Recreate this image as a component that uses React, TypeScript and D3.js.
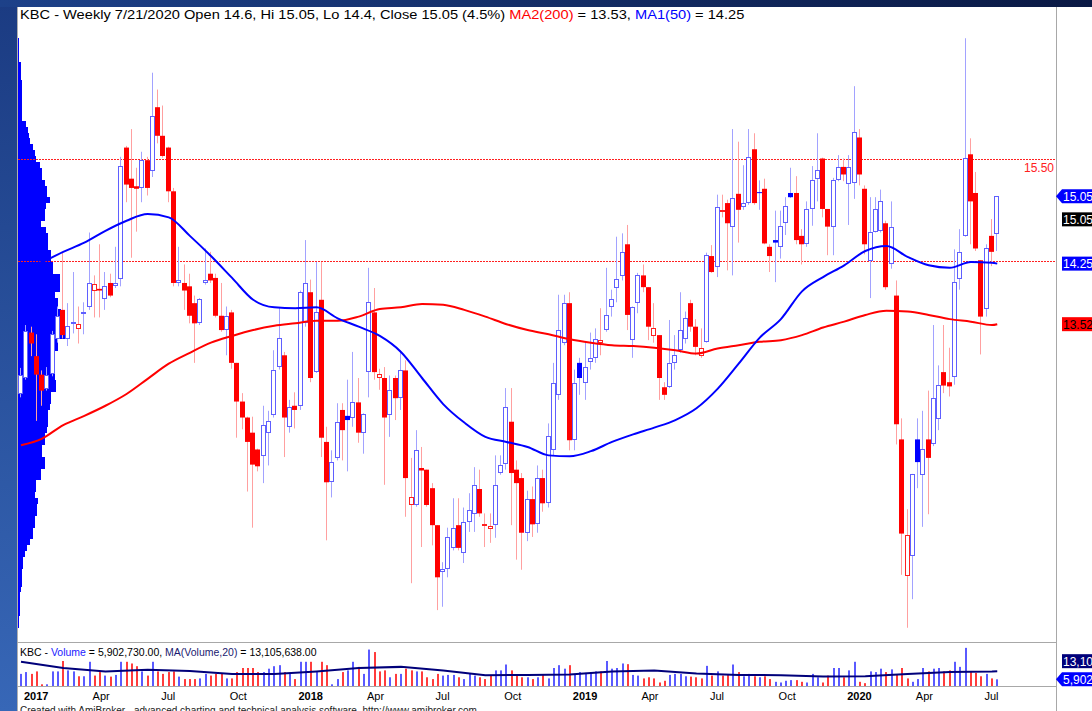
import React from 'react';
import * as d3 from 'd3';

// weekly bars, first bar = week ending 6 Jan 2017
const firstBar = new Date(2017, 0, 6);

const opens = [
  12.70, 12.89, 13.43, 13.15, 12.93, 12.76, 12.93, 13.36, 13.70, 13.36,
  13.53, 13.47, 13.66, 13.74, 13.93, 13.95, 13.83, 14.02, 13.98, 14.07,
  15.63, 15.26, 15.17, 15.15, 15.48, 15.35, 16.11, 15.77, 15.63, 15.11,
  14.02, 14.02, 13.98, 13.78, 13.54, 14.02, 14.13, 14.08, 13.63, 13.46,
  13.67, 13.07, 12.61, 12.42, 12.24, 12.04, 11.96, 12.24, 12.45, 13.02,
  13.16, 12.31, 12.56, 12.55, 13.54, 13.91, 12.96, 13.82, 12.13, 11.65,
  11.94, 12.51, 12.44, 12.41, 12.60, 12.24, 12.96, 13.67, 12.89, 12.89,
  12.45, 12.89, 12.65, 12.98, 11.38, 11.38, 11.82, 11.80, 11.58, 11.14,
  10.58, 10.62, 10.87, 11.14, 10.81, 11.18, 11.28, 11.57, 11.13, 11.10,
  11.14, 11.76, 11.86, 12.37, 11.80, 11.70, 11.05, 11.45, 11.15, 11.70,
  11.40, 12.03, 12.69, 13.31, 13.78, 12.15, 13.07, 12.83, 13.08, 13.13,
  13.30, 13.46, 13.74, 13.96, 14.11, 14.48, 13.35, 13.78, 14.11, 13.97,
  13.40, 13.40, 12.78, 12.78, 13.07, 13.22, 13.35, 13.78, 13.50, 13.16,
  13.31, 14.34, 14.21, 14.87, 14.97, 14.68, 15.08, 14.92, 14.97, 15.61,
  15.10, 15.14, 14.45, 14.53, 14.45, 14.73, 15.09, 15.09, 14.58, 14.48,
  14.90, 15.25, 15.50, 14.90, 14.69, 15.25, 15.40, 15.20, 15.20, 15.75,
  15.14, 14.29, 14.63, 14.63, 14.73, 14.24, 13.87, 12.16, 10.53, 10.78,
  12.16, 11.74, 12.16, 12.10, 12.41, 12.96, 12.84, 12.90, 14.07, 14.58,
  15.55, 15.09, 14.29, 13.71, 14.58, 14.60,
];

const highs = [
  13.01, 13.52, 13.50, 13.41, 12.98, 13.02, 13.45, 13.74, 14.39, 13.78,
  14.15, 13.74, 13.79, 14.62, 14.11, 14.48, 14.15, 14.13, 14.45, 15.52,
  15.65, 15.85, 15.39, 15.58, 15.52, 16.52, 16.32, 16.13, 15.64, 15.15,
  14.45, 14.24, 14.13, 13.87, 13.84, 14.43, 14.39, 14.13, 14.02, 13.74,
  13.70, 13.07, 12.71, 12.43, 12.43, 12.05, 12.56, 12.50, 13.22, 13.72,
  13.20, 12.63, 12.72, 13.93, 14.53, 14.06, 14.27, 14.27, 12.31, 12.03,
  12.59, 12.59, 12.87, 13.20, 12.89, 12.47, 14.20, 13.96, 13.00, 13.02,
  12.92, 12.92, 13.22, 13.10, 11.94, 12.27, 12.07, 11.80, 11.64, 11.14,
  10.70, 11.11, 11.46, 11.46, 11.35, 11.52, 11.83, 11.80, 11.28, 11.28,
  11.97, 11.97, 12.77, 12.77, 11.91, 11.76, 11.55, 11.60, 11.85, 11.80,
  12.35, 13.07, 13.88, 13.88, 13.91, 12.99, 13.13, 13.31, 13.43, 13.48,
  13.72, 14.20, 13.94, 14.57, 14.61, 14.71, 13.74, 14.14, 14.24, 13.97,
  13.78, 13.40, 12.84, 13.58, 13.40, 13.91, 13.68, 13.82, 13.59, 13.48,
  14.38, 14.47, 15.07, 15.07, 15.01, 15.85, 15.70, 15.42, 15.85, 15.80,
  15.24, 15.26, 14.48, 14.88, 14.88, 15.04, 15.39, 15.29, 14.66, 14.99,
  15.41, 15.80, 15.51, 14.90, 15.27, 15.54, 15.50, 15.54, 16.36, 15.85,
  15.18, 15.04, 15.04, 15.13, 14.76, 14.99, 14.05, 12.41, 11.33, 11.75,
  12.41, 12.50, 12.74, 13.52, 13.04, 13.52, 13.25, 14.42, 14.66, 16.93,
  15.74, 15.34, 14.29, 14.48, 14.78, 15.05,
];

const lows = [
  12.66, 12.87, 13.15, 12.38, 12.56, 12.74, 12.91, 13.31, 13.36, 13.27,
  13.42, 13.30, 13.41, 13.70, 13.61, 13.61, 13.70, 13.85, 13.96, 13.98,
  14.98, 14.32, 14.63, 14.98, 15.06, 15.28, 15.68, 15.51, 14.98, 13.98,
  13.98, 13.70, 13.54, 13.07, 13.52, 14.00, 14.02, 13.61, 13.44, 13.16,
  13.00, 12.18, 12.28, 11.54, 11.11, 11.78, 11.64, 11.85, 12.42, 12.99,
  11.95, 12.24, 12.29, 12.51, 13.50, 12.84, 12.95, 11.95, 10.96, 11.47,
  11.91, 11.91, 11.78, 12.31, 12.12, 11.99, 12.66, 12.87, 12.75, 11.62,
  12.19, 12.39, 12.51, 11.24, 10.45, 11.36, 10.88, 11.36, 10.90, 10.13,
  10.17, 10.52, 10.84, 10.84, 10.69, 11.06, 11.06, 11.24, 10.88, 10.93,
  10.99, 11.74, 11.80, 11.14, 10.73, 10.61, 10.95, 11.00, 11.05, 11.30,
  11.35, 11.97, 12.63, 13.28, 12.03, 12.03, 12.69, 12.63, 12.99, 13.07,
  13.16, 13.44, 13.62, 13.79, 14.05, 13.46, 13.13, 13.66, 13.91, 13.34,
  13.31, 12.63, 12.63, 12.77, 12.99, 13.19, 13.30, 13.44, 13.16, 13.13,
  13.31, 14.14, 14.09, 14.80, 14.17, 14.11, 14.50, 14.89, 14.95, 14.95,
  14.89, 14.48, 14.15, 14.03, 14.31, 14.59, 15.03, 14.48, 14.24, 14.45,
  14.70, 14.99, 14.80, 14.35, 14.35, 15.23, 15.23, 14.71, 15.02, 15.18,
  14.36, 13.84, 14.62, 14.62, 13.94, 14.19, 12.10, 10.55, 9.92, 10.26,
  11.58, 11.12, 11.27, 12.08, 12.27, 12.71, 12.67, 12.81, 13.94, 14.57,
  14.48, 14.40, 13.17, 13.62, 14.22, 14.40,
];

const closes = [
  12.93, 13.45, 13.30, 12.93, 12.74, 12.93, 13.41, 13.63, 13.40, 13.51,
  13.55, 13.53, 13.68, 14.02, 14.01, 13.93, 13.98, 13.87, 14.02, 15.41,
  15.19, 15.15, 15.14, 15.48, 15.15, 16.00, 15.77, 15.53, 15.11, 14.02,
  14.06, 13.93, 13.63, 13.54, 13.83, 14.06, 14.05, 13.63, 13.46, 13.63,
  13.07, 12.61, 12.42, 12.13, 11.86, 11.84, 12.33, 12.38, 12.99, 13.37,
  12.42, 12.55, 12.51, 13.91, 14.02, 12.89, 13.67, 12.18, 11.65, 11.89,
  12.37, 12.27, 12.39, 12.60, 12.24, 12.46, 13.79, 12.96, 12.94, 12.42,
  12.75, 12.65, 12.98, 11.70, 11.48, 12.03, 11.79, 11.38, 11.14, 10.52,
  10.62, 11.00, 11.11, 10.87, 11.18, 11.32, 11.62, 11.28, 11.15, 11.13,
  11.62, 11.86, 12.54, 11.76, 11.64, 11.05, 11.45, 11.15, 11.70, 11.40,
  12.20, 12.83, 13.46, 13.78, 12.15, 12.83, 12.89, 13.02, 13.13, 13.35,
  13.34, 13.64, 13.83, 14.07, 14.39, 13.64, 13.74, 14.11, 13.97, 13.50,
  13.49, 12.89, 12.69, 13.07, 13.16, 13.46, 13.60, 13.50, 13.26, 13.25,
  14.35, 14.15, 14.92, 14.89, 14.73, 15.03, 14.89, 14.97, 15.52, 14.97,
  15.09, 14.49, 14.34, 14.50, 14.70, 14.93, 15.04, 14.53, 14.48, 14.90,
  15.25, 15.36, 14.90, 14.69, 15.25, 15.40, 15.31, 15.40, 15.81, 15.31,
  14.48, 14.63, 14.90, 14.99, 13.97, 14.68, 12.34, 11.04, 11.02, 11.75,
  11.89, 12.05, 11.94, 12.65, 12.81, 12.80, 12.79, 14.03, 14.39, 15.51,
  14.99, 14.43, 13.62, 14.44, 14.39, 15.05,
];

// weekly volume, millions
const volumes = [
  10.7, 12.3, 10.7, 12.9, 1.5, 1.5, 12.9, 12.9, 22.1, 13.8,
  12.9, 8.6, 8.6, 21.4, 9.2, 12.3, 9.2, 8.3, 9.8, 21.4,
  21.4, 19.9, 17.5, 12.9, 9.2, 21.4, 12.9, 10.7, 12.3, 12.9,
  8.3, 6.1, 6.1, 6.1, 6.7, 10.7, 9.2, 10.7, 10.7, 6.7,
  6.7, 12.3, 15.9, 15.9, 15.9, 12.3, 12.3, 15.3, 17.5, 18.4,
  12.3, 10.7, 6.1, 21.4, 21.4, 21.4, 12.3, 21.4, 18.4, 1.5,
  6.1, 12.3, 13.8, 21.4, 16.9, 10.7, 32.2, 30.0, 12.9, 13.8,
  7.7, 10.7, 10.7, 15.3, 13.8, 12.9, 12.9, 7.7, 6.1, 10.7,
  9.2, 9.8, 9.8, 7.7, 6.1, 10.7, 9.2, 7.7, 6.1, 9.2,
  13.8, 13.8, 19.0, 13.8, 9.2, 7.7, 7.7, 6.1, 7.7, 9.8,
  6.7, 15.9, 18.4, 15.3, 18.4, 10.7, 12.3, 11.6, 12.3, 12.9,
  12.9, 22.1, 15.3, 15.9, 19.9, 19.3, 9.8, 9.2, 6.7, 7.7,
  6.7, 3.1, 4.6, 9.8, 10.7, 10.7, 8.6, 8.3, 7.7, 6.7,
  17.8, 9.2, 12.9, 9.2, 9.8, 19.0, 12.3, 8.6, 10.7, 8.6,
  7.7, 8.6, 6.1, 3.7, 3.1, 4.6, 5.2, 5.2, 3.7, 3.1,
  10.7, 7.7, 3.1, 9.2, 15.9, 15.9, 7.7, 13.8, 21.4, 3.7,
  2.5, 12.9, 12.3, 15.3, 12.3, 14.7, 9.8, 15.9, 6.7, 3.7,
  6.1, 15.9, 12.9, 15.3, 15.9, 12.9, 13.8, 21.4, 16.9, 33.7,
  12.9, 11.6, 8.6, 10.7, 6.7, 5.9,
];

// moving averages read every 4th bar (last one = current bar)
const maBars = [...d3.range(0, 185, 4), 185];
const ma50 = [
  14.20, 14.27, 14.39, 14.50, 14.64, 14.76, 14.84, 14.80, 14.58, 14.34,
  14.08, 13.82, 13.73, 13.72, 13.73, 13.60, 13.50, 13.39, 13.20, 12.89,
  12.58, 12.36, 12.19, 12.13, 12.07, 11.97, 11.96, 12.02, 12.13, 12.22,
  12.30, 12.39, 12.53, 12.76, 13.06, 13.37, 13.59, 13.92, 14.09, 14.23,
  14.40, 14.46, 14.33, 14.23, 14.20, 14.27, 14.26, 14.25,
];
const ma200 = [
  12.09, 12.17, 12.33, 12.44, 12.56, 12.70, 12.88, 13.06, 13.19, 13.31,
  13.39, 13.46, 13.51, 13.54, 13.57, 13.57, 13.62, 13.71, 13.73, 13.77,
  13.76, 13.70, 13.62, 13.53, 13.46, 13.41, 13.35, 13.31, 13.28, 13.27,
  13.25, 13.22, 13.18, 13.24, 13.28, 13.32, 13.34, 13.40, 13.49, 13.56,
  13.64, 13.69, 13.68, 13.64, 13.59, 13.56, 13.52, 13.53,
];

// MA(Volume,20), every 8th bar
const volMaBars = [...d3.range(0, 185, 8), 185];
const volMa = [
  21.4, 16.0, 12.9, 14.4, 13.2, 10.7, 10.7, 12.9, 15.9, 16.9,
  13.6, 9.5, 9.8, 10.2, 12.9, 13.6, 11.0, 9.8, 9.5, 8.3,
  8.6, 10.7, 12.3, 12.9, 13.1,
];

// volume at price, 100 rows from the high down to the low
const profile = [
  1, 1, 1, 1, 2.5, 2.7, 2.7, 4, 4, 4,
  4, 4, 4, 4, 8, 10, 11, 12, 15, 17,
  18, 22, 24, 24, 27, 29, 29, 32, 28, 27,
  27, 23, 28, 30, 30, 30, 33, 33, 35, 35,
  42, 42, 42, 37, 40, 40, 43, 43, 47, 47,
  47, 40, 40, 36, 36, 36, 37, 37, 38, 38,
  33, 33, 32, 30, 30, 30, 29, 27, 27, 24,
  24, 27, 27, 23, 23, 18, 18, 17, 20, 19,
  19, 17, 17, 15, 15, 12, 9, 7, 5, 5,
  4, 4, 4, 3, 2, 2, 2, 2, 1, 1,
];

const hLines = [15.5, 14.28];

const FONT = "'Liberation Sans', Arial, sans-serif";

const x = d3.scaleLinear().domain([0, 185]).range([21, 997.25]);
const y = d3.scaleLinear().domain([10, 17]).range([621.05, 32.35]);
const yv = d3.scaleLinear().domain([0, 38]).range([686, 643]);

export default function App() {
  const n = closes.length;
  const dates = closes.map((_, i) => d3.timeDay.offset(firstBar, 7 * i));
  const up = closes.map((c, i) => (i === 0 ? c >= opens[i] : c >= closes[i - 1]));

  // quarter labels
  const ticks: { i: number; text: string; year: boolean }[] = [];
  dates.forEach((d, i) => {
    const m = d.getMonth();
    if (m % 3 !== 0) return;
    if (i > 0 && dates[i - 1].getMonth() === m) return;
    ticks.push({ i, text: m === 0 ? String(d.getFullYear()) : d3.timeFormat('%b')(d), year: m === 0 });
  });

  const maLine = d3.line<number>().x((_, k) => x(maBars[k])).y(v => y(v)).curve(d3.curveMonotoneX);
  const vmaLine = d3.line<number>().x((_, k) => x(volMaBars[k])).y(v => yv(v));

  const hi = d3.max(highs)!;
  const lo = d3.min(lows)!;
  const rowH = (y(lo) - y(hi)) / profile.length;
  const prof = d3.scaleLinear().domain([0, d3.max(profile)!]).range([0, 47]);

  const last = n - 1;
  const yc = y(closes[last]);
  const yMa1 = y(ma50[ma50.length - 1]);
  const yMa2 = y(ma200[ma200.length - 1]);
  const yVol = yv(volumes[last]);
  const yVma = yv(volMa[volMa.length - 1]) - 10;

  const arrow = (cy: number) => `M1056,${cy} L1062,${cy - 7} L1092,${cy - 7} L1092,${cy + 7} L1062,${cy + 7} Z`;

  return (
    <svg width={1092} height={711} style={{ position: 'absolute', left: 0, top: 0, background: '#fff' }} fontFamily={FONT}>
      <defs>
        <linearGradient id="topband" x1="0" x2="1" y1="0" y2="0">
          <stop offset="0" stopColor="#1d4189" />
          <stop offset="1" stopColor="#0a1944" />
        </linearGradient>
        <linearGradient id="leftband" x1="0" x2="0" y1="0" y2="1">
          <stop offset="0" stopColor="#1b3b82" />
          <stop offset="1" stopColor="#3767b7" />
        </linearGradient>
        <clipPath id="pane">
          <rect x={18} y={8} width={1038} height={634} />
        </clipPath>
      </defs>

      <rect x={0} y={0} width={17} height={711} fill="url(#leftband)" />
      <rect x={0} y={0} width={1092} height={7} fill="url(#topband)" />

      {/* frame */}
      <line x1={17.5} x2={17.5} y1={7} y2={711} stroke="#b0b0b0" />
      <line x1={1056.5} x2={1056.5} y1={7} y2={711} stroke="#a8a8a8" />
      <line x1={17} x2={1056} y1={642.5} y2={642.5} stroke="#a8a8a8" />
      <line x1={17} x2={1056} y1={686.5} y2={686.5} stroke="#a8a8a8" />

      <g clipPath="url(#pane)">
        {/* volume at price */}
        <g shapeRendering="crispEdges">
          {profile.map((v, k) => {
            const y0 = Math.round(y(hi) + k * rowH);
            const y1 = Math.round(y(hi) + (k + 1) * rowH);
            return <rect key={k} x={18} y={y0} width={Math.max(1, Math.round(prof(v)))} height={y1 - y0} fill="#0000ff" />;
          })}
        </g>

        {hLines.map(p => (
          <line key={p} x1={18} x2={1056} y1={Math.round(y(p)) + 0.5} y2={Math.round(y(p)) + 0.5}
            stroke="#ff2020" strokeDasharray="2 1" shapeRendering="crispEdges" />
        ))}

        {/* candles */}
        {closes.map((c, i) => {
          const o = opens[i];
          const cx = Math.round(x(i));
          const top = y(Math.max(o, c));
          const h = Math.max(1, y(Math.min(o, c)) - top);
          const hollow = c > o;
          return (
            <g key={i}>
              <line x1={cx - 0.5} x2={cx - 0.5} y1={y(highs[i])} y2={y(lows[i])} stroke={up[i] ? '#a2a2ff' : '#ffa0a0'} />
              {hollow ? (
                <rect x={cx - 2.5} y={Math.round(top) + 0.5} width={4} height={Math.max(1, Math.round(h) - 1)}
                  fill="#fff" stroke={up[i] ? '#5f5fff' : '#ff2020'} />
              ) : (
                <rect x={cx - 3} y={top} width={5} height={h} fill={up[i] ? '#0000ff' : '#ff0000'} />
              )}
            </g>
          );
        })}

        <path d={maLine(ma200)!} fill="none" stroke="#ff0000" strokeWidth={2} />
        <path d={maLine(ma50)!} fill="none" stroke="#0000ff" strokeWidth={2} />
      </g>

      <text x={1054} y={172} textAnchor="end" fontSize={12} fill="#ff2020">15.50</text>

      {/* title, drawn a little wide like the original */}
      <text transform="translate(20,19) scale(1.22,1)" fontSize={12} fill="#000">
        <tspan>KBC - Weekly 7/21/2020 Open 14.6, Hi 15.05, Lo 14.4, Close 15.05 (4.5%) </tspan>
        <tspan fill="#ff0000">MA2(200)</tspan>
        <tspan> = 13.53, </tspan>
        <tspan fill="#0000ff">MA1(50)</tspan>
        <tspan> = 14.25</tspan>
      </text>

      {/* price axis labels */}
      <path d={arrow(yc)} fill="#0000ff" />
      <text x={1063} y={yc + 4.5} fontSize={12} fill="#fff">15.05</text>
      <rect x={1062} y={yc + 16} width={30} height={14} fill="#000" />
      <text x={1063} y={yc + 27.5} fontSize={12} fill="#fff">15.05</text>
      <rect x={1062} y={yMa1 - 7} width={30} height={14} fill="#0000ff" />
      <text x={1063} y={yMa1 + 4.5} fontSize={12} fill="#fff">14.25</text>
      <rect x={1062} y={yMa2 - 7} width={30} height={14} fill="#ff0000" />
      <text x={1063} y={yMa2 + 4.5} fontSize={12} fill="#000">13.52</text>

      {/* volume pane */}
      {volumes.map((v, i) => (
        <rect key={i} x={Math.round(x(i)) - 1} y={yv(v)} width={2} height={yv(0) - yv(v)}
          fill={up[i] ? '#5a5aff' : '#ff3c3c'} />
      ))}
      <path d={vmaLine(volMa)!} fill="none" stroke="#00007a" strokeWidth={2} />
      <text x={20} y={656} fontSize={10.5} fill="#000">
        <tspan>KBC - </tspan>
        <tspan fill="#2020ff">Volume</tspan>
        <tspan> = 5,902,730.00, </tspan>
        <tspan fill="#1a1a70">MA(Volume,20)</tspan>
        <tspan> = 13,105,638.00</tspan>
      </text>
      <rect x={1062} y={yVma - 7} width={30} height={14} fill="#00007a" />
      <text x={1063} y={yVma + 4.5} fontSize={12} fill="#fff">13,105,638</text>
      <path d={arrow(yVol)} fill="#0000ff" />
      <text x={1063} y={yVol + 4.5} fontSize={12} fill="#fff">5,902,730</text>

      {/* date axis */}
      {ticks.map(t => (
        <text key={t.i} x={x(t.i) + 3} y={700} fontSize={11} fontWeight={t.year ? 'bold' : 'normal'} fill="#000">
          {t.text}
        </text>
      ))}
      <text x={20} y={714} fontSize={10} fill="#222">
        Created with AmiBroker - advanced charting and technical analysis software. http://www.amibroker.com
      </text>
    </svg>
  );
}
